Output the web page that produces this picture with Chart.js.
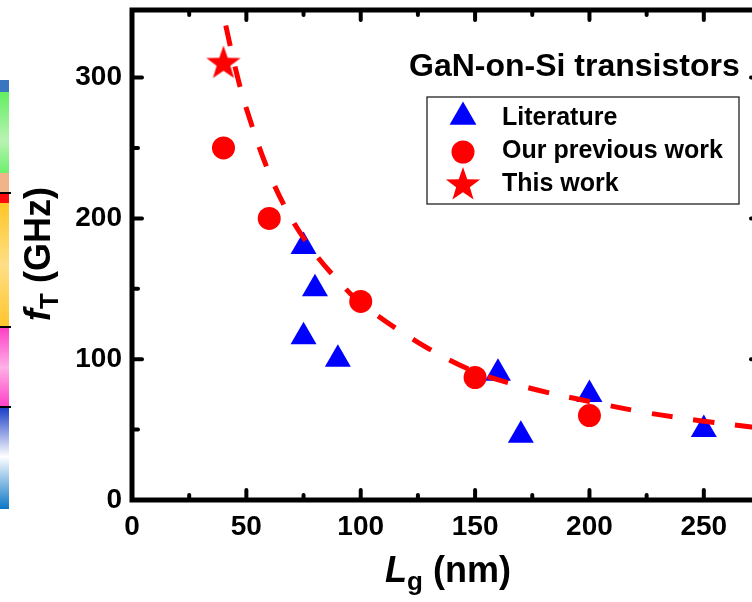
<!DOCTYPE html>
<html>
<head>
<meta charset="utf-8">
<script src="https://cdn.jsdelivr.net/npm/chart.js@4.4.0/dist/chart.umd.min.js"></script>
<style>
  html, body { margin: 0; padding: 0; background: #fff; overflow: hidden; }
  #wrap { position: relative; width: 770px; height: 602px; }
  #fTChart { position: absolute; left: 0; top: 0; }
  .strip { position: absolute; left: 0; width: 9px; }
  .rule { position: absolute; left: 0; width: 11px; height: 2px; background: #000; }
</style>
</head>
<body>
<div id="wrap">
  <canvas id="fTChart" width="770" height="602"></canvas>
  <!-- edge of the neighbouring panel's colour scale -->
  <div class="strip" style="top:80px;height:12px;background:#3a76bf"></div>
  <div class="strip" style="top:92px;height:81px;background:linear-gradient(#62ef62,#b9f3b2 60%,#6cf06c)"></div>
  <div class="strip" style="top:173px;height:20px;background:#f2b38a"></div>
  <div class="rule" style="top:192px"></div>
  <div class="strip" style="top:194px;height:9px;background:#ff0a0a"></div>
  <div class="strip" style="top:203px;height:124px;background:linear-gradient(#ffc626,#ffdf86 50%,#ffc52a)"></div>
  <div class="rule" style="top:326px"></div>
  <div class="strip" style="top:328px;height:79px;background:linear-gradient(#ff3fc6,#ffb0e6 50%,#ff3fc6)"></div>
  <div class="rule" style="top:406px"></div>
  <div class="strip" style="top:408px;height:101px;background:linear-gradient(#1b3fc7,#ffffff 48%,#0b76c7)"></div>
</div>
<script>
// gate length (nm) vs cut-off frequency (GHz)
const litLg = [75, 80, 75, 90, 160, 170, 200, 250];
const litFt = [180, 150, 116, 100, 90, 46, 75, 50];
const prevLg = [40, 60, 100, 150, 200];
const prevFt = [250, 200, 141, 87, 60];
const thisLg = [40];
const thisFt = [310];
// dashed guide curve
const fitLg = [41, 45, 50, 60, 70, 80, 90, 100, 125, 150, 175, 200, 225, 250, 275];
const fitFt = [337, 308, 278, 232, 199, 175, 156, 140, 112, 91, 79, 70, 62, 56, 51];

const xMajorTicks = [0, 50, 100, 150, 200, 250];
const xMinorTicks = [25, 75, 125, 175, 225, 275];
const yMajorTicks = [0, 100, 200, 300];
const yMinorTicks = [50, 150, 250];

const seriesNames = ['Literature', 'Our previous work', 'This work'];
const panelLabel = 'GaN-on-Si transistors';

const FONT = '"Liberation Sans", Arial, Helvetica, sans-serif';
const RED = '#ff0000';
const BLUE = '#0000ff';

const toPoints = (xs, ys) => xs.map((x, i) => ({ x: x, y: ys[i] }));

// filled five point star, Chart.js' own 'star' is only an outline
const makeStar = (outer) => {
  const size = Math.ceil(outer * 2 + 2);
  const c = document.createElement('canvas');
  c.width = size;
  c.height = size;
  const g = c.getContext('2d');
  const inner = outer * 0.4;
  g.fillStyle = RED;
  g.beginPath();
  for (let i = 0; i < 10; i++) {
    const r = i % 2 === 0 ? outer : inner;
    const a = -Math.PI / 2 + i * Math.PI / 5;
    const px = size / 2 + r * Math.cos(a);
    const py = size / 2 + r * Math.sin(a);
    if (i === 0) g.moveTo(px, py); else g.lineTo(px, py);
  }
  g.closePath();
  g.fill();
  return c;
};
const starImg = makeStar(18);

const drawParts = (ctx, parts, cx, baseY) => {
  let total = 0;
  parts.forEach(p => { ctx.font = p.font; p.w = ctx.measureText(p.text).width; total += p.w; });
  let x = cx - total / 2;
  parts.forEach(p => { ctx.font = p.font; ctx.fillText(p.text, x, baseY + p.dy); x += p.w; });
};

const drawMarker = (ctx, style, radius, color, x, y) => {
  ctx.fillStyle = color;
  ctx.strokeStyle = color;
  if (Chart.helpers && Chart.helpers.drawPoint) {
    Chart.helpers.drawPoint(ctx, { pointStyle: style, radius: radius, rotation: 0, borderWidth: 0 }, x, y);
  } else if (style === 'circle') {
    ctx.beginPath(); ctx.arc(x, y, radius, 0, Math.PI * 2); ctx.fill();
  } else if (style === 'triangle') {
    ctx.beginPath();
    ctx.moveTo(x, y - radius);
    ctx.lineTo(x + radius * 0.866, y + radius / 2);
    ctx.lineTo(x - radius * 0.866, y + radius / 2);
    ctx.closePath(); ctx.fill();
  } else {
    ctx.drawImage(style, x - style.width / 2, y - style.height / 2);
  }
};

// box, inward ticks, titles, legend and the panel label
const framePlugin = {
  id: 'frame',
  afterDraw: (chart) => {
    const ctx = chart.ctx;
    const { left, right, top, bottom } = chart.chartArea;
    const xs = chart.scales.x;
    const ys = chart.scales.y;
    ctx.save();
    ctx.strokeStyle = '#000';
    ctx.lineWidth = 5;
    ctx.strokeRect(left, top, right - left, bottom - top);

    ctx.lineWidth = 4;
    ctx.lineCap = 'round';
    const tick = (x1, y1, x2, y2) => { ctx.beginPath(); ctx.moveTo(x1, y1); ctx.lineTo(x2, y2); ctx.stroke(); };
    xMajorTicks.forEach(v => { const px = xs.getPixelForValue(v); tick(px, bottom, px, bottom - 10); tick(px, top, px, top + 10); });
    xMinorTicks.forEach(v => { const px = xs.getPixelForValue(v); tick(px, bottom, px, bottom - 5); tick(px, top, px, top + 5); });
    yMajorTicks.forEach(v => { const py = ys.getPixelForValue(v); tick(left, py, left + 10, py); tick(right, py, right - 10, py); });
    yMinorTicks.forEach(v => { const py = ys.getPixelForValue(v); tick(left, py, left + 6, py); tick(right, py, right - 6, py); });

    ctx.fillStyle = '#000';
    ctx.textAlign = 'left';
    ctx.textBaseline = 'alphabetic';
    drawParts(ctx, [
      { text: 'L', font: 'italic bold 36px ' + FONT, dy: 0 },
      { text: 'g', font: 'bold 26px ' + FONT, dy: 8 },
      { text: ' (nm)', font: 'bold 36px ' + FONT, dy: 0 }
    ], 448, 582);

    ctx.save();
    ctx.translate(50, (top + bottom) / 2 - 1);
    ctx.rotate(-Math.PI / 2);
    drawParts(ctx, [
      { text: 'f', font: 'italic bold 36px ' + FONT, dy: 0 },
      { text: 'T', font: 'bold 26px ' + FONT, dy: 8 },
      { text: ' (GHz)', font: 'bold 36px ' + FONT, dy: 0 }
    ], 0, 0);
    ctx.restore();

    ctx.font = 'bold 32px ' + FONT;
    ctx.fillText(panelLabel, 409, 76);

    // legend
    ctx.lineWidth = 1.3;
    ctx.lineCap = 'butt';
    ctx.strokeStyle = '#222';
    ctx.strokeRect(427, 97, 312, 107);
    drawMarker(ctx, 'triangle', 15.5, BLUE, 463, 117);
    drawMarker(ctx, 'circle', 11.5, RED, 463, 152);
    drawMarker(ctx, starImg, 18, RED, 463, 185);
    ctx.fillStyle = '#000';
    ctx.font = 'bold 25px ' + FONT;
    ctx.textBaseline = 'middle';
    [118, 151, 184].forEach((y, i) => ctx.fillText(seriesNames[i], 502, y));
    ctx.restore();
  }
};

// drop the label overhang Chart.js reserves, the box sits where the figure has it
const noOverhang = (scale) => {
  scale.paddingTop = 0;
  scale.paddingBottom = 0;
  scale.paddingLeft = 0;
  scale.paddingRight = 0;
};

const chartCtx = document.getElementById('fTChart').getContext('2d');
const fTChart = new Chart(chartCtx, {
  type: 'scatter',
  data: {
    datasets: [
      {
        label: seriesNames[2],
        data: toPoints(thisLg, thisFt),
        pointStyle: starImg,
        pointRadius: 18,
        order: 0
      },
      {
        label: 'fit',
        type: 'line',
        data: toPoints(fitLg, fitFt),
        showLine: true,
        borderColor: RED,
        borderWidth: 5,
        borderDash: [21, 21],
        borderCapStyle: 'butt',
        tension: 0.35,
        pointRadius: 0,
        fill: false,
        order: 1
      },
      {
        label: seriesNames[1],
        data: toPoints(prevLg, prevFt),
        pointStyle: 'circle',
        pointRadius: 11.5,
        backgroundColor: RED,
        borderWidth: 0,
        order: 2
      },
      {
        label: seriesNames[0],
        data: toPoints(litLg, litFt),
        pointStyle: 'triangle',
        pointRadius: 15,
        backgroundColor: BLUE,
        borderWidth: 0,
        order: 3
      }
    ]
  },
  options: {
    responsive: false,
    animation: false,
    devicePixelRatio: 1,
    layout: { autoPadding: false, padding: { top: 10, right: 9, left: 0, bottom: 0 } },
    plugins: {
      legend: { display: false },
      tooltip: { enabled: false }
    },
    scales: {
      x: {
        type: 'linear',
        min: 0,
        max: 275,
        afterBuildTicks: (scale) => { scale.ticks = xMajorTicks.map(v => ({ value: v })); },
        afterFit: (scale) => { scale.height = 102; noOverhang(scale); },
        grid: { display: false, drawTicks: false },
        border: { display: false },
        ticks: { color: '#000', padding: 10, maxRotation: 0, font: { family: FONT, size: 28, weight: 'bold' } }
      },
      y: {
        type: 'linear',
        min: 0,
        max: 348,
        afterBuildTicks: (scale) => { scale.ticks = yMajorTicks.map(v => ({ value: v })); },
        afterFit: (scale) => { scale.width = 132; noOverhang(scale); },
        grid: { display: false, drawTicks: false },
        border: { display: false },
        ticks: { color: '#000', padding: 10, font: { family: FONT, size: 28, weight: 'bold' } }
      }
    }
  },
  plugins: [framePlugin]
});
</script>
</body>
</html>
